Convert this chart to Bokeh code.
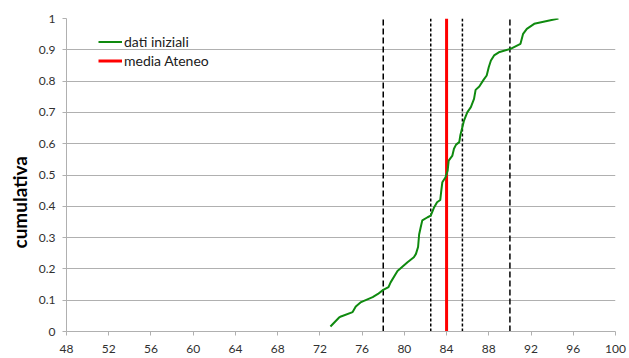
from bokeh.plotting import figure
from bokeh.models import Range1d, FixedTicker, Legend, LegendItem, Title
from bokeh.embed import file_html
from bokeh.resources import INLINE

# ---- data ----
curve_x = [73.0, 73.8, 74.0, 75.1, 75.4, 75.9, 77.0, 77.5, 78.0, 78.5, 78.7, 79.35, 80.3, 80.9,
           81.1, 81.3, 81.4, 81.55, 81.7, 82.2, 82.5, 82.8, 83.1, 83.4, 83.5, 83.6, 83.9, 84.1,
           84.2, 84.55, 84.7, 84.9, 85.2, 85.3, 85.5, 85.65, 85.96, 86.3, 86.6, 86.75, 87.1,
           87.5, 87.8, 88.0, 88.2, 88.5, 88.95, 90.06, 91.0, 91.25, 91.6, 92.3, 94.6]
curve_y = [0.016, 0.044, 0.048, 0.062, 0.080, 0.094, 0.110, 0.120, 0.133, 0.142, 0.157, 0.193,
           0.221, 0.237, 0.248, 0.270, 0.310, 0.333, 0.355, 0.365, 0.370, 0.395, 0.413, 0.420,
           0.450, 0.477, 0.493, 0.514, 0.546, 0.562, 0.584, 0.597, 0.605, 0.626, 0.653, 0.674,
           0.700, 0.717, 0.743, 0.772, 0.783, 0.804, 0.818, 0.845, 0.866, 0.882, 0.892, 0.903,
           0.919, 0.951, 0.967, 0.983, 1.0]
mean_value = 84.0
dashed_wide = [78.0, 90.0]
dashed_narrow = [82.5, 85.5]
x_ticks = [48, 52, 56, 60, 64, 68, 72, 76, 80, 84, 88, 92, 96, 100]
y_ticks = [0, 0.1, 0.2, 0.3, 0.4, 0.5, 0.6, 0.7, 0.8, 0.9, 1]
y_tick_labels = ["0", "0.1", "0.2", "0.3", "0.4", "0.5", "0.6", "0.7", "0.8", "0.9", "1"]

FONT = "Lato"

p = figure(width=629, height=358, output_backend="svg", toolbar_location=None,
           x_range=Range1d(48, 100), y_range=Range1d(0, 1),
           min_border_left=65, min_border_right=14, min_border_top=18, min_border_bottom=27)
p.outline_line_color = None
p.xgrid.grid_line_color = None
p.ygrid.grid_line_color = "#b0b0b0"
p.ygrid.grid_line_width = 1

p.xaxis.ticker = FixedTicker(ticks=x_ticks)
p.yaxis.ticker = FixedTicker(ticks=y_ticks)
p.yaxis.major_label_overrides = {t: l for t, l in zip(y_ticks, y_tick_labels)}
for ax in (p.xaxis, p.yaxis):
    ax.axis_line_color = "#b0b0b0"
    ax.major_tick_line_color = "#b0b0b0"
    ax.major_tick_in = 0
    ax.major_tick_out = 4
    ax.minor_tick_line_color = None
    ax.major_label_text_font = FONT
    ax.major_label_text_font_size = "12px"
    ax.major_label_text_color = "#303030"
p.xaxis.major_label_standoff = 9
p.yaxis.major_label_standoff = 7

# vertical reference lines
for v in dashed_wide:
    p.line([v, v], [0, 1], line_color="black", line_width=1.5, line_dash="6 3")
for v in dashed_narrow:
    p.line([v, v], [0, 1], line_color="black", line_width=1.5, line_dash="3 2")
r_mean = p.line([mean_value, mean_value], [0, 1], line_color="#ff0000", line_width=3)
r_curve = p.line(curve_x, curve_y, line_color="#0f8a0f", line_width=2)

legend = Legend(items=[LegendItem(label="dati iniziali", renderers=[r_curve]),
                       LegendItem(label="media Ateneo", renderers=[r_mean])],
                location=(32, 261), margin=0, padding=0, spacing=0,
                border_line_color=None, background_fill_alpha=0,
                glyph_width=24, glyph_height=19, label_height=19, label_standoff=2,
                label_text_font=FONT, label_text_font_size="14px", label_text_color="#202020")
p.add_layout(legend)

p.add_layout(Title(text="cumulativa", align="left", offset=83, text_font=FONT,
                   text_font_style="bold", text_font_size="19px", text_color="black",
                   standoff=10), "left")

open("out.html", "w").write(file_html(p, INLINE))
